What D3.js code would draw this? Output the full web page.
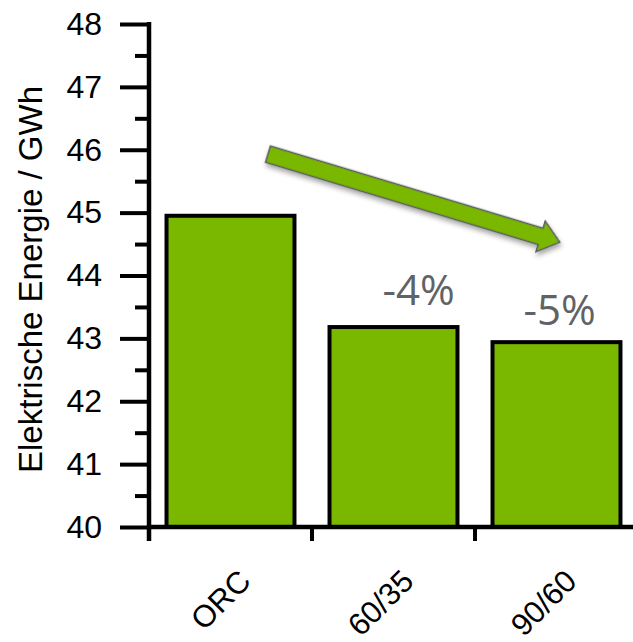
<!DOCTYPE html>
<html>
<head>
<meta charset="utf-8">
<script src="https://cdn.jsdelivr.net/npm/d3@7"></script>
<style>
  html, body { margin: 0; padding: 0; background: #fff; }
  svg { display: block; }
</style>
</head>
<body>
<svg id="chart" width="633" height="642"></svg>
<script>
// ---- data ----
const categories = ["ORC", "60/35", "90/60"];
const values = [44.95, 43.18, 42.94];
const changeLabels = [null, "-4%", "-5%"];
const yMajorTicks = [40, 41, 42, 43, 44, 45, 46, 47, 48];
const yMinorTicks = [40.5, 41.5, 42.5, 43.5, 44.5, 45.5, 46.5, 47.5];
const yTitle = "Elektrische Energie / GWh";
// trend arrow in data terms: [band position, value]
const arrowFrom = [0.73, 45.93];
const arrowTo = [2.52, 44.53];

// ---- layout ----
const svg = d3.select("#chart");
const plotLeft = 149, plotBottom = 527, plotTop = 24;
const pad = 0.215;
const x = d3.scaleBand().domain(categories).range([plotLeft, plotLeft + 489])
  .paddingInner(pad).paddingOuter(pad / 2);
const y = d3.scaleLinear().domain([40, 48]).range([plotBottom, plotTop]);
const green = "#7AB800";

const defs = svg.append("defs");
const f = defs.append("filter").attr("id", "shadow")
  .attr("x", "-20%").attr("y", "-50%").attr("width", "140%").attr("height", "200%");
f.append("feDropShadow").attr("dx", 2).attr("dy", 3).attr("stdDeviation", 2.5)
  .attr("flood-color", "#000").attr("flood-opacity", 0.35);

// bars
svg.append("g").selectAll("rect").data(categories).join("rect")
  .attr("x", d => x(d))
  .attr("y", (d, i) => y(values[i]))
  .attr("width", x.bandwidth())
  .attr("height", (d, i) => y(40) - y(values[i]))
  .attr("fill", green)
  .attr("stroke", "#000")
  .attr("stroke-width", 4);

// y axis major
const yAxis = svg.append("g").attr("transform", `translate(${plotLeft},0)`)
  .call(d3.axisLeft(y).tickValues(yMajorTicks).tickSize(29).tickPadding(18).tickFormat(d3.format("d")));
yAxis.select(".domain").remove();
yAxis.selectAll(".tick line").attr("stroke", "#000").attr("stroke-width", 4);
yAxis.selectAll(".tick text").attr("font-family", "Liberation Sans, Arial, sans-serif")
  .attr("font-size", 32).attr("fill", "#000");

// y axis minor
const yMinor = svg.append("g").attr("transform", `translate(${plotLeft},0)`)
  .call(d3.axisLeft(y).tickValues(yMinorTicks).tickSize(14).tickFormat(""));
yMinor.select(".domain").remove();
yMinor.selectAll(".tick line").attr("stroke", "#000").attr("stroke-width", 4);

// y axis line
svg.append("line").attr("x1", plotLeft).attr("x2", plotLeft)
  .attr("y1", y(48) - 2).attr("y2", plotBottom + 14)
  .attr("stroke", "#000").attr("stroke-width", 4.5);

// x axis line and ticks at band boundaries
svg.append("line").attr("x1", plotLeft).attr("x2", 633)
  .attr("y1", plotBottom).attr("y2", plotBottom)
  .attr("stroke", "#000").attr("stroke-width", 4.5);
const boundaries = categories.map((c, i) => plotLeft + i * x.step());
svg.append("g").selectAll("line").data(boundaries).join("line")
  .attr("x1", d => d).attr("x2", d => d)
  .attr("y1", plotBottom).attr("y2", plotBottom + 14)
  .attr("stroke", "#000").attr("stroke-width", 4);

// x labels
svg.append("g").selectAll("text").data(categories).join("text")
  .attr("transform", d => `translate(${x(d) + x.bandwidth() / 2 + 22},${plotBottom + 56}) rotate(-45)`)
  .attr("text-anchor", "end")
  .attr("font-family", "Liberation Sans, Arial, sans-serif")
  .attr("font-size", 31)
  .attr("fill", "#000")
  .text(d => d);

// y title
svg.append("text")
  .attr("transform", `translate(42,${(82 + 477) / 2}) rotate(-90)`)
  .attr("text-anchor", "middle")
  .attr("font-family", "Liberation Sans, Arial, sans-serif")
  .attr("font-size", 33)
  .attr("fill", "#000")
  .text(yTitle);

// change labels
const labelOffsets = [0, 25, 3];
const labelLift = [0, 0.35, 0.27];
svg.append("g").selectAll("text").data(categories.filter((d, i) => changeLabels[i])).join("text")
  .attr("x", d => x(d) + x.bandwidth() / 2 + labelOffsets[categories.indexOf(d)])
  .attr("y", d => { const i = categories.indexOf(d); return y(values[i] + labelLift[i]); })
  .attr("text-anchor", "middle")
  .attr("font-family", "Open Sans, sans-serif")
  .attr("font-size", 42)
  .attr("fill", "#606366")
  .text(d => changeLabels[categories.indexOf(d)]);

// trend arrow
const p0 = [plotLeft + arrowFrom[0] * x.step(), y(arrowFrom[1])];
const p1 = [plotLeft + arrowTo[0] * x.step(), y(arrowTo[1])];
const len = Math.hypot(p1[0] - p0[0], p1[1] - p0[1]);
const ang = Math.atan2(p1[1] - p0[1], p1[0] - p0[0]) * 180 / Math.PI;
const sw = 8.5, hw = 16, hl = 20;
const arrowPts = [[0, -sw], [len - hl, -sw], [len - hl, -hw], [len, 0], [len - hl, hw], [len - hl, sw], [0, sw]];
svg.append("path")
  .attr("transform", `translate(${p0[0]},${p0[1]}) rotate(${ang})`)
  .attr("d", d3.line()(arrowPts) + "Z")
  .attr("fill", green)
  .attr("stroke", "#5a5a5a")
  .attr("stroke-width", 1.5)
  .attr("stroke-linejoin", "miter")
  .attr("filter", "url(#shadow)");
</script>
</body>
</html>
